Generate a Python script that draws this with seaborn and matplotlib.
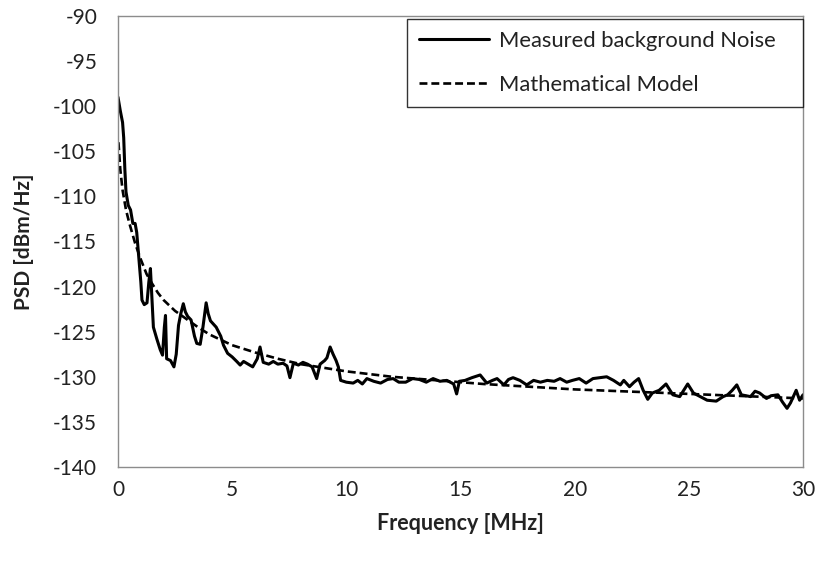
import numpy as np
import pandas as pd
import matplotlib
matplotlib.use("Agg")
import matplotlib.pyplot as plt
from matplotlib.ticker import MultipleLocator
import seaborn as sns

# Measured background noise PSD (frequency in MHz, PSD in dBm/Hz)
meas_freq = [
    0.0, 0.1, 0.2, 0.25, 0.3, 0.35, 0.45, 0.55, 0.65, 0.75, 0.82, 0.9, 1.0, 1.05,
    1.15, 1.27, 1.35, 1.42, 1.5, 1.55, 1.7, 1.85, 1.95, 2.03, 2.08, 2.13, 2.3, 2.45,
    2.55, 2.65, 2.75, 2.86, 2.95, 3.05, 3.2, 3.35, 3.45, 3.6, 3.72, 3.86, 3.95, 4.05,
    4.3, 4.5, 4.62, 4.8, 5.0, 5.2, 5.35, 5.5, 5.7, 5.9, 6.1, 6.22, 6.36, 6.6, 6.8,
    7.0, 7.23, 7.4, 7.53, 7.68, 7.9, 8.1, 8.3, 8.5, 8.7, 8.85, 9.05, 9.15, 9.29,
    9.42, 9.55, 9.65, 9.75, 10.0, 10.3, 10.5, 10.7, 10.9, 11.2, 11.5, 11.8, 12.05,
    12.3, 12.6, 12.9, 13.2, 13.5, 13.8, 14.1, 14.4, 14.7, 14.83, 14.95, 15.2, 15.5,
    15.86, 16.15, 16.4, 16.6, 16.9, 17.1, 17.3, 17.6, 17.9, 18.2, 18.5, 18.8, 19.1,
    19.36, 19.65, 19.9, 20.2, 20.5, 20.8, 21.1, 21.4, 21.7, 22.0, 22.15, 22.4, 22.6,
    22.8, 23.0, 23.2, 23.4, 23.7, 24.0, 24.3, 24.6, 24.95, 25.2, 25.5, 25.8, 26.2,
    26.5, 26.7, 26.9, 27.1, 27.3, 27.7, 27.9, 28.1, 28.4, 28.6, 28.9, 29.1, 29.3,
    29.45, 29.7, 29.85, 30.0,
]
meas_psd = [
    -99.0, -100.5, -101.8, -103.5, -107.0, -109.5, -111.0, -111.5, -113.0, -113.0,
    -114.0, -116.5, -119.5, -121.5, -122.0, -121.8, -119.5, -118.0, -122.0, -124.5,
    -125.8, -127.0, -127.6, -124.5, -123.2, -128.0, -128.2, -128.9, -127.5, -124.3,
    -123.0, -121.9, -122.8, -123.3, -123.7, -125.5, -126.3, -126.4, -124.5, -121.8,
    -123.0, -123.8, -124.5, -125.5, -126.5, -127.4, -127.8, -128.3, -128.7, -128.3,
    -128.6, -128.9, -128.0, -126.7, -128.4, -128.6, -128.3, -128.6, -128.5, -128.8,
    -130.1, -128.5, -128.7, -128.4, -128.6, -128.9, -130.2, -128.6, -128.2, -127.9,
    -126.7, -127.5, -128.2, -128.9, -130.4, -130.6, -130.7, -130.4, -130.8, -130.2,
    -130.5, -130.7, -130.3, -130.2, -130.6, -130.6, -130.2, -130.3, -130.6, -130.2,
    -130.5, -130.4, -130.8, -131.9, -130.5, -130.4, -130.1, -129.8, -130.7, -130.4,
    -130.2, -130.9, -130.3, -130.1, -130.4, -130.9, -130.4, -130.6, -130.4, -130.5,
    -130.2, -130.6, -130.4, -130.2, -130.7, -130.2, -130.1, -130.0, -130.4, -130.9,
    -130.4, -131.1, -130.6, -130.2, -131.5, -132.5, -131.8, -131.5, -130.8, -132.0,
    -132.2, -130.8, -131.8, -132.2, -132.6, -132.7, -132.2, -132.0, -131.5, -130.9,
    -132.0, -132.2, -131.6, -131.8, -132.4, -132.1, -132.0, -132.8, -133.5, -132.9,
    -131.5, -132.6, -132.0,
]

# Mathematical model of the background noise
model_freq = [
    0.02, 0.1, 0.2, 0.35, 0.5, 0.75, 1.0, 1.25, 1.5, 1.75, 2.0, 2.5, 3.0, 3.5, 4.0,
    4.5, 5.0, 6.0, 7.0, 8.0, 9.0, 10.0, 12.0, 14.0, 16.0, 18.0, 20.0, 22.0, 24.0,
    26.0, 28.0, 30.0,
]
model_psd = [
    -104.0, -107.0, -109.3, -111.5, -113.0, -115.2, -117.0, -118.6, -119.7, -120.7,
    -121.5, -122.7, -123.6, -124.5, -125.3, -125.9, -126.5, -127.3, -128.0, -128.6,
    -129.0, -129.4, -130.0, -130.4, -130.8, -131.1, -131.4, -131.6, -131.8, -132.0,
    -132.2, -132.4,
]

x_ticks = [0, 5, 10, 15, 20, 25, 30]
y_ticks = [-140, -135, -130, -125, -120, -115, -110, -105, -100, -95, -90]

sns.set_style("white")
plt.rcParams["font.family"] = ["Lato", "DejaVu Sans"]

meas_df = pd.DataFrame({"freq": meas_freq, "psd": meas_psd})
model_df = pd.DataFrame({"freq": model_freq, "psd": model_psd})

fig = plt.figure(figsize=(8.2, 5.65), dpi=100)
ax = fig.add_axes([0.1439, 0.1735, 0.8354, 0.7982])

sns.lineplot(data=meas_df, x="freq", y="psd", ax=ax, color="black",
             linewidth=2.2, label="Measured background Noise", sort=False)
sns.lineplot(data=model_df, x="freq", y="psd", ax=ax, color="black",
             linewidth=1.9, label="Mathematical Model", sort=False)
ax.lines[1].set_dashes((3, 1.5))

ax.set_xlim(0, 30)
ax.set_ylim(-140, -90)
ax.set_xticks(x_ticks)
ax.set_yticks(y_ticks)
ax.xaxis.set_minor_locator(MultipleLocator(1))
ax.yaxis.set_minor_locator(MultipleLocator(1))
ax.tick_params(axis="both", which="both", direction="in", color="#9a9a9a",
               width=0.8, labelsize=15, labelcolor="#222222")
ax.tick_params(axis="both", which="major", length=5)
ax.tick_params(axis="both", which="minor", length=4)
ax.tick_params(axis="y", which="major", pad=15)
ax.tick_params(axis="x", which="major", pad=9.5)
ax.set_xticklabels([str(t) for t in x_ticks])
ax.set_yticklabels([str(t) for t in y_ticks])

for side in ["left", "right", "top", "bottom"]:
    ax.spines[side].set_visible(True)
    ax.spines[side].set_color("#8c8c8c")
    ax.spines[side].set_linewidth(1.0)

ax.set_xlabel("Frequency [MHz]", fontsize=15.5, fontweight="bold",
              color="#222222", labelpad=9)
ax.set_ylabel("PSD [dBm/Hz]", fontsize=15, fontweight="bold",
              color="#222222", labelpad=14)

# Legend box spans the right part of the plot area
leg = ax.legend(loc="upper right", bbox_to_anchor=(0.4219, 0.0, 0.5781, 0.994),
                mode="expand", borderaxespad=0, frameon=True, fancybox=False,
                fontsize=15.8, handlelength=3.2, handletextpad=0.45,
                labelspacing=1.1, borderpad=0.55)
leg.get_frame().set_edgecolor("black")
leg.get_frame().set_linewidth(1.0)
for t in leg.get_texts():
    t.set_color("#222222")

fig.savefig("out.png", dpi=100)
